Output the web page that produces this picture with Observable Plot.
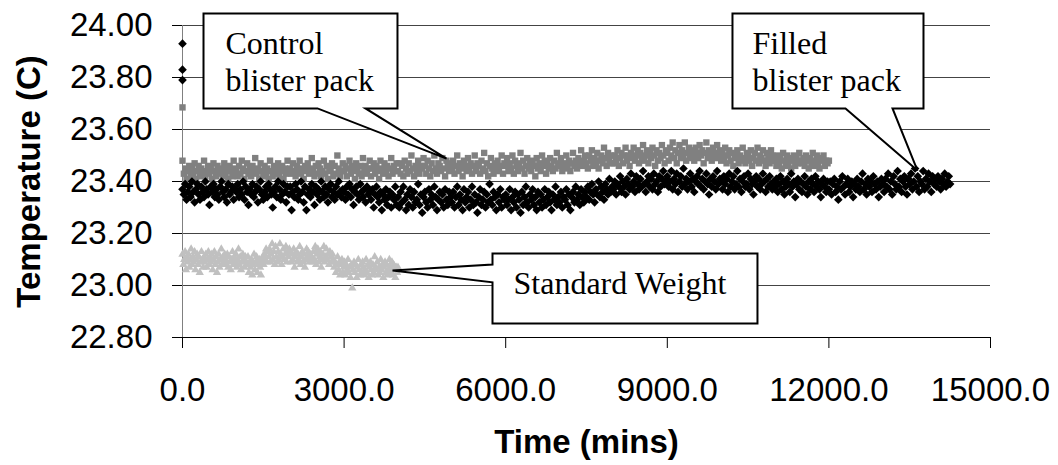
<!DOCTYPE html>
<html>
<head>
<meta charset="utf-8">
<script src="https://cdn.jsdelivr.net/npm/d3@7"></script>
<script src="https://cdn.jsdelivr.net/npm/@observablehq/plot@0.6"></script>
<style>
  html, body { margin: 0; padding: 0; background: #fff; }
</style>
</head>
<body>
<div id="chart"></div>
<script>
// ---- Data ----
// Logger sampling interval (minutes) for each run
const filledInterval = 25;
const controlInterval = 25;
const standardInterval = 16;

// Filled blister pack temperatures (C), one value per sample
const filledTemps = [
  23.37,23.35,23.39,23.33,23.36,23.38,23.34,23.40,23.36,23.32,23.37,23.39,23.35,23.33,23.38,23.36,23.34,23.40,23.37,23.35,
  23.31,23.38,23.36,23.39,23.34,23.37,23.35,23.33,23.38,23.40,23.36,23.34,23.37,23.32,23.39,23.35,23.36,23.38,23.33,23.37,
  23.36,23.39,23.34,23.37,23.35,23.40,23.33,23.38,23.36,23.31,23.37,23.35,23.39,23.34,23.36,23.38,23.32,23.37,23.40,23.35,
  23.33,23.36,23.38,23.34,23.39,23.37,23.35,23.30,23.36,23.38,23.34,23.40,23.37,23.33,23.35,23.39,23.36,23.32,23.38,23.35,
  23.38,23.29,23.36,23.34,23.39,23.37,23.33,23.35,23.40,23.36,23.32,23.38,23.29,23.35,23.37,23.34,23.39,23.36,23.31,23.38,
  23.35,23.37,23.33,23.40,23.36,23.34,23.38,23.35,23.32,23.37,23.39,23.34,23.36,23.33,23.38,23.35,23.40,23.36,23.34,23.37,
  23.36,23.33,23.38,23.35,23.39,23.34,23.37,23.31,23.36,23.38,23.35,23.33,23.39,23.36,23.34,23.37,23.32,23.38,23.35,23.36,
  23.33,23.37,23.30,23.35,23.38,23.34,23.32,23.36,23.29,23.35,23.33,23.37,23.31,23.34,23.36,23.30,23.35,23.33,23.38,23.31,
  23.34,23.30,23.36,23.32,23.38,23.33,23.29,23.35,23.31,23.37,23.34,23.30,23.36,23.32,23.33,23.39,23.31,23.35,23.28,23.34,
  23.36,23.32,23.30,23.37,23.33,23.35,23.31,23.38,23.34,23.29,23.33,23.36,23.32,23.35,23.30,23.37,23.33,23.31,23.36,23.34,
  23.32,23.36,23.30,23.34,23.38,23.31,23.35,23.33,23.29,23.37,23.32,23.34,23.36,23.30,23.33,23.38,23.31,23.35,23.32,23.28,
  23.34,23.37,23.31,23.33,23.36,23.30,23.35,23.32,23.39,23.33,23.31,23.36,23.34,23.29,23.35,23.32,23.37,23.30,23.34,23.33,
  23.35,23.31,23.33,23.37,23.29,23.34,23.32,23.36,23.30,23.35,23.33,23.28,23.36,23.31,23.34,23.38,23.32,23.30,23.35,23.33,
  23.37,23.31,23.34,23.29,23.36,23.32,23.35,23.30,23.33,23.37,23.31,23.34,23.36,23.32,23.29,23.35,23.33,23.38,23.31,23.34,
  23.32,23.36,23.30,23.34,23.33,23.37,23.31,23.35,23.29,23.34,23.36,23.32,23.38,23.33,23.35,23.31,23.37,23.34,23.32,23.36,
  23.34,23.38,23.33,23.36,23.39,23.35,23.32,23.37,23.35,23.40,23.34,23.38,23.36,23.33,23.39,23.37,23.35,23.41,23.36,23.38,
  23.37,23.40,23.35,23.39,23.38,23.42,23.36,23.40,23.38,23.35,23.41,23.39,23.37,23.43,23.38,23.40,23.36,23.42,23.39,23.37,
  23.41,23.38,23.44,23.39,23.36,23.40,23.42,23.38,23.41,23.37,23.43,23.39,23.40,23.36,23.42,23.38,23.41,23.44,23.39,23.40,
  23.42,23.38,23.40,23.44,23.37,23.41,23.39,23.43,23.36,23.40,23.42,23.38,23.45,23.39,23.41,23.37,23.40,23.43,23.38,23.41,
  23.36,23.40,23.42,23.39,23.44,23.38,23.41,23.37,23.40,23.43,23.39,23.35,23.41,23.38,23.42,23.40,23.37,23.44,23.39,23.41,
  23.40,23.37,23.42,23.39,23.41,23.36,23.43,23.38,23.40,23.42,23.37,23.39,23.44,23.38,23.41,23.36,23.40,23.42,23.38,23.39,
  23.43,23.37,23.41,23.39,23.35,23.40,23.42,23.38,23.41,23.37,23.39,23.43,23.40,23.36,23.41,23.38,23.42,23.39,23.37,23.40,
  23.38,23.41,23.36,23.39,23.42,23.37,23.40,23.35,23.38,23.41,23.39,23.36,23.43,23.38,23.40,23.34,23.39,23.41,23.37,23.40,
  23.36,23.39,23.42,23.38,23.35,23.40,23.37,23.41,23.39,23.36,23.42,23.38,23.40,23.37,23.34,23.39,23.41,23.38,23.36,23.40,
  23.37,23.40,23.35,23.39,23.41,23.36,23.38,23.33,23.40,23.37,23.42,23.38,23.35,23.39,23.41,23.36,23.38,23.40,23.34,23.39,
  23.37,23.41,23.38,23.36,23.40,23.43,23.37,23.39,23.35,23.41,23.38,23.40,23.36,23.42,23.39,23.37,23.40,23.34,23.38,23.41,
  23.39,23.36,23.41,23.38,23.43,23.37,23.40,23.35,23.42,23.39,23.37,23.44,23.38,23.41,23.36,23.40,23.42,23.38,23.35,23.41,
  23.39,23.43,23.37,23.40,23.45,23.38,23.42,23.36,23.40,23.39,23.44,23.37,23.41,23.38,23.43,23.40,23.36,23.42,23.39,23.41,
  23.38,23.42,23.40,23.37,23.41,23.39,23.43,23.38,23.40,23.42,23.39
];
// Start-up readings of the filled pack at time 0
const filledStartTemps = [23.93, 23.83, 23.79];

// Control blister pack temperatures (C)
const controlTemps = [
  23.48,23.43,23.45,23.41,23.44,23.46,23.42,23.45,23.43,23.47,23.41,23.44,23.46,23.42,23.45,23.43,23.48,23.42,23.44,23.46,
  23.43,23.45,23.41,23.47,23.44,23.42,23.46,23.43,23.44,23.45,23.42,23.47,23.43,23.45,23.41,23.46,23.44,23.42,23.48,23.45,
  23.44,23.42,23.46,23.43,23.48,23.45,23.41,23.44,23.47,23.43,23.45,23.42,23.46,23.44,23.49,23.43,23.45,23.41,23.47,23.44,
  23.42,23.46,23.43,23.45,23.41,23.48,23.44,23.42,23.46,23.43,23.45,23.47,23.42,23.44,23.46,23.41,23.45,23.43,23.48,23.44,
  23.45,23.43,23.47,23.44,23.42,23.46,23.44,23.48,23.43,23.45,23.41,23.46,23.44,23.47,23.43,23.45,23.49,23.44,23.42,23.46,
  23.43,23.47,23.45,23.42,23.44,23.48,23.43,23.46,23.41,23.45,23.44,23.47,23.42,23.46,23.43,23.50,23.45,23.42,23.44,23.47,
  23.44,23.46,23.42,23.45,23.48,23.43,23.46,23.44,23.41,23.47,23.45,23.43,23.46,23.42,23.49,23.44,23.46,23.43,23.45,23.48,
  23.42,23.45,23.47,23.43,23.46,23.44,23.41,23.48,23.45,23.43,23.47,23.44,23.46,23.42,23.45,23.49,23.43,23.46,23.44,23.47,
  23.44,23.47,23.43,23.46,23.42,23.48,23.45,23.43,23.47,23.44,23.50,23.45,23.42,23.46,23.44,23.48,23.43,23.46,23.45,23.49,
  23.46,23.43,23.48,23.45,23.42,23.47,23.44,23.50,23.45,23.43,23.47,23.46,23.44,23.49,23.45,23.42,23.48,23.46,23.44,23.47,
  23.45,23.48,23.43,23.46,23.50,23.44,23.47,23.45,23.42,23.48,23.46,23.44,23.49,23.45,23.47,23.43,23.46,23.50,23.44,23.47,
  23.46,23.43,23.48,23.45,23.51,23.44,23.47,23.42,23.46,23.49,23.45,23.43,23.47,23.45,23.48,23.44,23.46,23.50,23.43,23.47,
  23.46,23.49,23.44,23.47,23.45,23.50,23.43,23.48,23.46,23.44,23.47,23.51,23.45,23.48,23.43,23.46,23.49,23.45,23.47,23.44,
  23.48,23.46,23.42,23.49,23.45,23.47,23.44,23.50,23.46,23.48,23.43,23.47,23.45,23.49,23.46,23.44,23.48,23.45,23.51,23.47,
  23.46,23.49,23.44,23.47,23.45,23.50,23.46,23.48,23.44,23.47,23.51,23.46,23.48,23.45,23.49,23.47,23.52,23.46,23.48,23.50,
  23.47,23.45,23.50,23.48,23.52,23.46,23.49,23.47,23.51,23.45,23.48,23.50,23.47,23.53,23.49,23.46,23.51,23.48,23.50,23.47,
  23.47,23.50,23.48,23.52,23.46,23.49,23.51,23.47,23.50,23.53,23.48,23.50,23.46,23.51,23.49,23.53,23.48,23.50,23.52,23.47,
  23.51,23.49,23.54,23.48,23.50,23.52,23.47,23.51,23.49,23.53,23.50,23.46,23.52,23.48,23.51,23.49,23.54,23.50,23.47,23.52,
  23.51,23.48,23.53,23.50,23.55,23.49,23.52,23.47,23.51,23.54,23.49,23.52,23.50,23.55,23.48,23.51,23.53,23.49,23.52,23.50,
  23.48,23.53,23.51,23.49,23.54,23.50,23.52,23.47,23.51,23.55,23.49,23.52,23.50,23.48,23.53,23.51,23.49,23.54,23.50,23.52,
  23.48,23.51,23.49,23.53,23.47,23.50,23.52,23.48,23.51,23.46,23.50,23.49,23.52,23.47,23.50,23.48,23.53,23.49,23.47,23.51,
  23.50,23.48,23.52,23.46,23.49,23.51,23.48,23.53,23.47,23.50,23.49,23.52,23.48,23.46,23.51,23.49,23.47,23.52,23.50,23.48,
  23.48,23.46,23.50,23.47,23.49,23.45,23.51,23.48,23.46,23.50,23.47,23.49,23.45,23.48,23.50,23.46,23.49,23.47,23.51,23.48,
  23.47,23.49,23.46,23.50,23.48,23.45,23.49,23.47,23.51,23.46,23.48,23.50,23.47,23.45,23.49,23.48,23.50,23.46,23.48,23.47,
  23.48
];
const controlStartTemps = [23.685];

// Standard weight temperatures (C)
const standardTemps = [
  23.12,23.08,23.10,23.13,23.06,23.11,23.09,23.12,23.07,23.10,23.14,23.08,23.11,23.09,23.13,23.06,23.10,23.12,23.08,23.11,23.05,23.09,23.13,23.10,23.07,
  23.11,23.09,23.12,23.07,23.10,23.13,23.08,23.11,23.09,23.12,23.06,23.10,23.13,23.08,23.11,23.05,23.09,23.12,23.07,23.10,23.14,23.08,23.11,23.09,23.12,
  23.10,23.08,23.12,23.07,23.11,23.09,23.06,23.10,23.13,23.08,23.11,23.09,23.12,23.07,23.10,23.14,23.08,23.11,23.06,23.09,23.12,23.10,23.07,23.11,23.09,
  23.08,23.11,23.05,23.09,23.07,23.10,23.04,23.08,23.12,23.06,23.09,23.11,23.05,23.08,23.10,23.07,23.04,23.09,23.11,23.08,23.12,23.10,23.14,23.09,23.13,
  23.11,23.14,23.09,23.12,23.16,23.10,23.13,23.08,23.15,23.11,23.09,23.13,23.10,23.16,23.12,23.08,23.11,23.14,23.10,23.12,23.15,23.09,23.13,23.11,23.14,
  23.13,23.09,23.12,23.10,23.14,23.07,23.11,23.13,23.09,23.12,23.10,23.15,23.08,23.11,23.13,23.09,23.12,23.07,23.10,23.14,23.11,23.13,23.09,23.12,23.10,
  23.11,23.09,23.13,23.10,23.15,23.08,23.12,23.14,23.09,23.11,23.13,23.07,23.10,23.12,23.15,23.09,23.11,23.14,23.10,23.12,23.08,23.13,23.11,23.09,23.12,
  23.10,23.07,23.09,23.05,23.08,23.11,23.06,23.09,23.04,23.08,23.10,23.05,23.07,23.09,23.04,23.08,23.06,23.10,23.05,23.07,23.03,23.08,22.99,23.06,23.09,
  23.05,23.08,23.03,23.07,23.10,23.06,23.04,23.08,23.05,23.09,23.07,23.04,23.06,23.10,23.05,23.08,23.03,23.07,23.09,23.06,23.04,23.08,23.05,23.11,23.07,
  23.06,23.09,23.04,23.07,23.05,23.10,23.06,23.08,23.03,23.07,23.09,23.05,23.08,23.04,23.06,23.10,23.07,23.05,23.09,23.04,23.08,23.06,23.03,23.07,23.05,
  23.07
];

// Axis ticks
const xTicks = [0, 3000, 6000, 9000, 12000, 15000];
const yTicks = [22.8, 23.0, 23.2, 23.4, 23.6, 23.8, 24.0];

// Callout labels
const labelControl = ["Control", "blister pack"];
const labelFilled = ["Filled", "blister pack"];
const labelStandard = ["Standard Weight"];

// ---- Build tables ----
const toRows = (temps, interval) => temps.map((t, i) => ({time: i * interval, temp: t}));
const filled = toRows(filledTemps, filledInterval).concat(filledStartTemps.map(t => ({time: 0, temp: t})));
const control = toRows(controlTemps, controlInterval).concat(controlStartTemps.map(t => ({time: 0, temp: t})));
const standard = toRows(standardTemps, standardInterval);

// Callout shapes, in data units (minutes, C)
const callouts = [
  ...[[390,24.046],[3991,24.046],[3991,23.681],[3397,23.681],[4901,23.488],[2506,23.681],[390,23.681]]
    .map(([x, y]) => ({id: "control", x, y})),
  ...[[10210,24.046],[13756,24.046],[13756,23.681],[13181,23.681],[13645,23.442],[12308,23.681],[10210,23.681]]
    .map(([x, y]) => ({id: "filled", x, y})),
  ...[[5755,23.123],[10674,23.123],[10674,22.854],[5755,22.854],[5755,23.012],[3899,23.058],[5755,23.081]]
    .map(([x, y]) => ({id: "standard", x, y}))
];
const calloutText = [
  {x: 798, y: 23.892, t: labelControl[0]},
  {x: 798, y: 23.750, t: labelControl[1]},
  {x: 10582, y: 23.892, t: labelFilled[0]},
  {x: 10582, y: 23.750, t: labelFilled[1]},
  {x: 6145, y: 22.969, t: labelStandard[0]}
];

const chart = Plot.plot({
  width: 1058,
  height: 465,
  marginLeft: 182,
  marginRight: 68,
  marginTop: 25,
  marginBottom: 128,
  style: {fontFamily: "'Liberation Sans', Arial, sans-serif", fontSize: "33px", background: "#fff", color: "#000", overflow: "visible"},
  x: {domain: [0, 15000], ticks: xTicks, tickFormat: d => d.toFixed(1), tickSize: 11, tickPadding: 29, label: null},
  y: {domain: [22.8, 24.0], ticks: yTicks, tickFormat: d => d.toFixed(2), tickSize: 10, tickPadding: 20, label: null},
  marks: [
    Plot.ruleY(yTicks.filter(d => d > 22.8), {stroke: "#444", strokeWidth: 1}),
    Plot.ruleX([0], {stroke: "#808080", strokeWidth: 1}),
    Plot.ruleY([22.8], {stroke: "#000", strokeWidth: 1}),
    Plot.dot(standard, {x: "time", y: "temp", symbol: "triangle", r: 3.1, fill: "#c0c0c0", stroke: "none"}),
    Plot.dot(control, {x: "time", y: "temp", symbol: "square", r: 3.6, fill: "#808080", stroke: "none"}),
    Plot.dot(filled, {x: "time", y: "temp", symbol: "diamond2", r: 3.9, fill: "#000", stroke: "none"}),
    Plot.line(callouts, {x: "x", y: "y", z: "id", curve: "linear-closed", fill: "#fff", stroke: "#000", strokeWidth: 2, strokeLinejoin: "miter", strokeMiterlimit: 4}),
    Plot.text(calloutText, {x: "x", y: "y", text: "t", textAnchor: "start", lineAnchor: "bottom", fontFamily: "'Liberation Serif', 'Times New Roman', serif", fontSize: 32, fill: "#000"}),
    Plot.text(["Time (mins)"], {frameAnchor: "bottom", dy: 105, lineAnchor: "middle", fontWeight: "bold", fontSize: 33}),
    Plot.text(["Temperature (C)"], {frameAnchor: "left", dx: -153, rotate: -90, textAnchor: "middle", lineAnchor: "middle", fontWeight: "bold", fontSize: 33})
  ]
});
document.getElementById("chart").appendChild(chart);
</script>
</body>
</html>
